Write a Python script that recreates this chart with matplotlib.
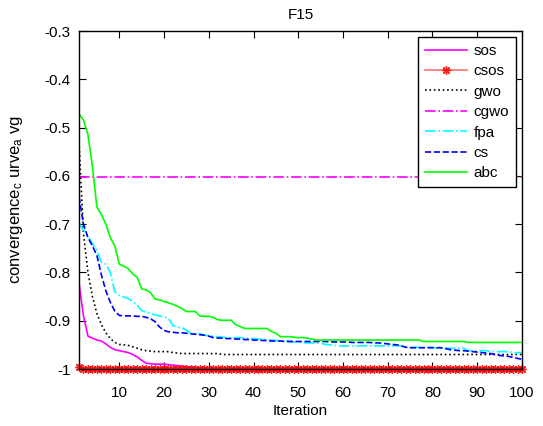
import numpy as np
import matplotlib
matplotlib.use('Agg')
import matplotlib.pyplot as plt
from matplotlib.ticker import FormatStrFormatter

plt.rcParams['font.family'] = ['Liberation Sans', 'DejaVu Sans']
plt.rcParams['mathtext.default'] = 'regular'

# Iterationen 1..100
iteration = np.arange(1, 101)

sos = [-0.822, -0.890, -0.932, -0.936, -0.940, -0.942, -0.948, -0.955, -0.960, -0.962,
       -0.964, -0.966, -0.970, -0.975, -0.982, -0.988, -0.989, -0.990, -0.990, -0.990,
       -0.991, -0.992, -0.993, -0.994, -0.995, -0.996, -0.997, -0.998, -0.998, -0.999] + [-1.0] * 70

csos = [-0.995] + [-1.0] * 99

gwo = [-0.53, -0.72, -0.80, -0.85, -0.885, -0.908, -0.925, -0.937, -0.945, -0.949,
       -0.950, -0.951, -0.954, -0.957, -0.960, -0.962, -0.963, -0.964, -0.964, -0.964,
       -0.964, -0.966, -0.967] + [-0.968] * 9 + [-0.970] * 68

cgwo = [-0.603] * 100

fpa = ([-0.698, -0.712, -0.725, -0.740, -0.755, -0.779, -0.783, -0.800, -0.840, -0.848,
        -0.851, -0.854, -0.860, -0.868, -0.879, -0.882, -0.885, -0.888, -0.890, -0.892,
        -0.895, -0.910, -0.913, -0.914, -0.920, -0.926, -0.927, -0.927]
       + [-0.930, -0.931, -0.932, -0.933, -0.934, -0.935, -0.935, -0.935, -0.935, -0.936]
       + [-0.936, -0.937, -0.938, -0.938, -0.939, -0.940, -0.941, -0.942, -0.942, -0.943]
       + [-0.944, -0.945, -0.945, -0.946, -0.946, -0.947, -0.947, -0.949, -0.950, -0.951, -0.952]
       + [-0.952] * 14 + [-0.955] * 7 + [-0.957] * 7 + [-0.962] * 5 + [-0.964] * 5 + [-0.966] * 3)

cs = ([-0.643, -0.700, -0.728, -0.745, -0.765, -0.805, -0.838, -0.862, -0.880, -0.889,
       -0.890, -0.890, -0.890, -0.891, -0.891, -0.893, -0.896, -0.902, -0.913, -0.920,
       -0.923, -0.924, -0.925, -0.925, -0.926, -0.927, -0.928, -0.929, -0.930, -0.932, -0.935]
      + [-0.936, -0.936, -0.937, -0.937, -0.938, -0.938, -0.939, -0.939, -0.940, -0.940]
      + [-0.941, -0.941, -0.942, -0.942, -0.942, -0.943, -0.943]
      + [-0.943] * 8 + [-0.944] * 5 + [-0.945] * 5
      + [-0.946, -0.946, -0.947, -0.948, -0.949, -0.950, -0.952, -0.955]
      + [-0.956] * 8
      + [-0.958, -0.960, -0.961, -0.962, -0.962, -0.963, -0.964, -0.965, -0.966, -0.967]
      + [-0.968, -0.970, -0.972, -0.973, -0.974, -0.976, -0.978, -0.980])

abc = ([-0.472, -0.484, -0.515, -0.580, -0.665, -0.680, -0.700, -0.728, -0.745, -0.783,
        -0.787, -0.792, -0.803, -0.810, -0.834, -0.836, -0.842, -0.855, -0.857, -0.860,
        -0.863, -0.866, -0.870, -0.875, -0.881, -0.881, -0.881, -0.890, -0.891, -0.891,
        -0.893, -0.898]
       + [-0.899] * 3 + [-0.908, -0.912, -0.916] + [-0.916] * 5
       + [-0.922, -0.926, -0.933, -0.933, -0.933, -0.934, -0.935, -0.935, -0.936, -0.938]
       + [-0.940] * 24 + [-0.943] * 10 + [-0.945] * 13)

fig = plt.figure(figsize=(5.43, 4.26), dpi=100)
ax = fig.add_axes([0.1455, 0.1338, 0.8158, 0.7934])

lw = 1.2
ax.plot(iteration, sos, '-', color='#ff00ff', lw=lw, label='sos')
ax.plot(iteration, csos, '-', color=(1, 0.3, 0.3, 0.8), lw=lw, marker=(8, 2, 0),
        markersize=6, markeredgecolor=(1, 0, 0, 0.85),
        markeredgewidth=1.0, clip_on=False, label='csos')
ax.plot(iteration, gwo, ':', color='black', lw=lw, label='gwo')
ax.plot(iteration, cgwo, '-.', color='#ff00ff', lw=lw, label='cgwo')
ax.plot(iteration, fpa, '-.', color='#00ffff', lw=lw, label='fpa')
ax.plot(iteration, cs, '--', color='#0000ff', lw=lw, label='cs')
ax.plot(iteration, abc, '-', color='#00ff00', lw=lw, label='abc')

ax.set_xlim(1, 100)
ax.set_ylim(-1, -0.3)
ax.set_xticks(np.arange(10, 101, 10))
ax.set_yticks(np.arange(-1, -0.29, 0.1))
ax.yaxis.set_major_formatter(FormatStrFormatter('%g'))
ax.tick_params(direction='in', top=True, right=True, length=5, labelsize=11)
ax.tick_params(axis='x', pad=12)
ax.tick_params(axis='y', pad=6)
for s in ax.spines.values():
    s.set_linewidth(1.0)

ax.set_title('F15', fontsize=11, pad=9)
ax.set_xlabel('Iteration', fontsize=11, labelpad=3)
ax.set_ylabel(r'convergence$_c$ urve$_a$ vg', fontsize=12, labelpad=14)

leg = ax.legend(loc='upper right', fontsize=11, fancybox=False, framealpha=1,
                edgecolor='black', handlelength=2.75, handletextpad=0.4,
                labelspacing=0.42, borderaxespad=0.4, borderpad=0.45)
leg.get_frame().set_linewidth(1.0)

fig.savefig('out.png', dpi=100)
